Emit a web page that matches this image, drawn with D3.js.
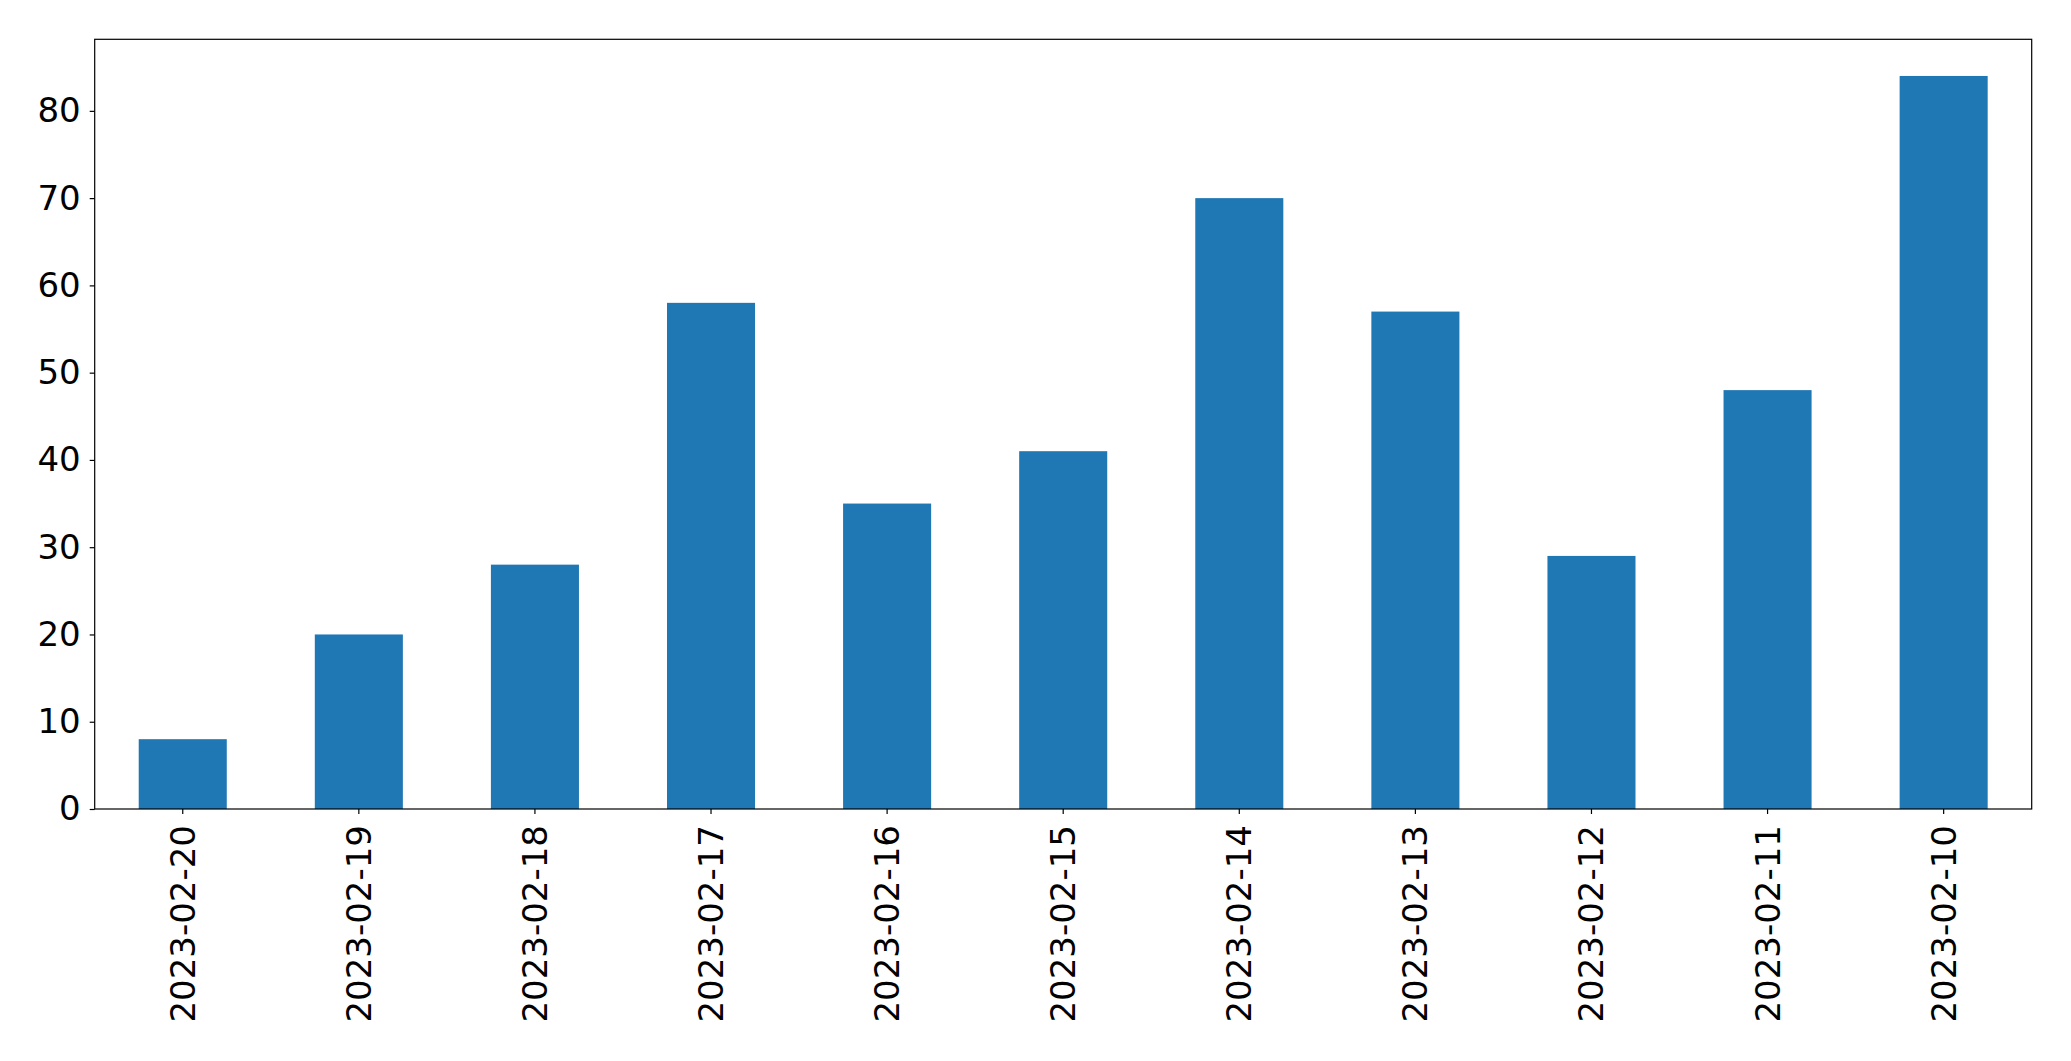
<!DOCTYPE html>
<html>
<head>
<meta charset="utf-8">
<script src="https://cdn.jsdelivr.net/npm/d3@7"></script>
<style>
  html, body { margin: 0; padding: 0; background: #fff; }
  svg { display: block; }
  text { font-family: "DejaVu Sans", sans-serif; fill: #000; }
</style>
</head>
<body>
<svg id="chart" width="2071" height="1061"></svg>
<script>
const categories = ["2023-02-20","2023-02-19","2023-02-18","2023-02-17","2023-02-16","2023-02-15","2023-02-14","2023-02-13","2023-02-12","2023-02-11","2023-02-10"];
const values = [8, 20, 28, 58, 35, 41, 70, 57, 29, 48, 84];
const yTicks = [0, 10, 20, 30, 40, 50, 60, 70, 80];

const W = 2071, H = 1061;
const margin = {left: 94.7, right: W - 2031.7, top: 39.3, bottom: H - 809};
const svg = d3.select("#chart");
const iw = W - margin.left - margin.right;
const ih = H - margin.top - margin.bottom;

const g = svg.append("g").attr("transform", `translate(${margin.left},${margin.top})`);

const x = d3.scaleBand().domain(categories).range([0, iw]).paddingInner(0.5).paddingOuter(0.25);
const y = d3.scaleLinear().domain([0, d3.max(values) * 1.05]).range([ih, 0]);

g.selectAll("rect.bar").data(categories).enter().append("rect")
  .attr("class", "bar")
  .attr("x", d => x(d))
  .attr("width", x.bandwidth())
  .attr("y", (d, i) => y(values[i]))
  .attr("height", (d, i) => y(0) - y(values[i]))
  .attr("fill", "#1f77b4");

// y axis
const yAxis = g.append("g").call(d3.axisLeft(y).tickValues(yTicks).tickSize(5).tickPadding(9).tickFormat(d3.format("d")));
yAxis.select(".domain").remove();
yAxis.selectAll(".tick line").attr("stroke", "#000").attr("stroke-width", 1.2);
yAxis.selectAll(".tick text").attr("font-size", 34).attr("font-family", "DejaVu Sans, sans-serif").attr("fill", "#000");

// x axis
const xAxis = g.append("g").attr("transform", `translate(0,${ih})`).call(d3.axisBottom(x).tickSize(5).tickPadding(11));
xAxis.select(".domain").remove();
xAxis.selectAll(".tick line").attr("stroke", "#000").attr("stroke-width", 1.2);
xAxis.selectAll(".tick text")
  .attr("font-size", 34)
  .attr("font-family", "DejaVu Sans, sans-serif")
  .attr("fill", "#000")
  .attr("text-anchor", "end")
  .attr("dy", null)
  .attr("y", 0)
  .attr("dominant-baseline", "central")
  .attr("transform", "translate(0,16) rotate(-90)");

// frame
g.append("rect").attr("x", 0).attr("y", 0).attr("width", iw).attr("height", ih)
  .attr("fill", "none").attr("stroke", "#000").attr("stroke-width", 1.2);
</script>
</body>
</html>
